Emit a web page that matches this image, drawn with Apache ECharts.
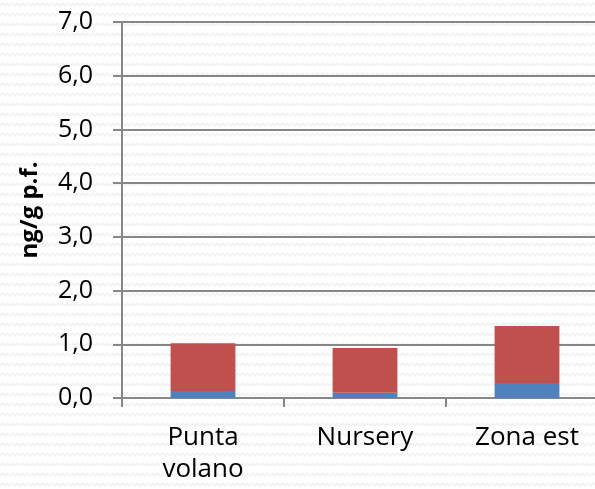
<!DOCTYPE html>
<html>
<head>
<meta charset="utf-8">
<script src="https://cdn.jsdelivr.net/npm/echarts@6/dist/echarts.min.js"></script>
<style>
  html, body { margin: 0; padding: 0; background: #fff; }
  #chart { width: 595px; height: 489px; }
</style>
</head>
<body>
<div id="chart"></div>
<script>
// categories and stacked values (ng/g p.f.)
const categories = ['Punta\nvolano', 'Nursery', 'Zona est']
const blueValues = [0.13, 0.10, 0.28]
const redValues = [0.89, 0.83, 1.06]

// faint zigzag background tile
function makeTile() {
  const c = document.createElement('canvas')
  c.width = 10
  c.height = 10
  const ctx = c.getContext('2d')
  ctx.fillStyle = '#ffffff'
  ctx.fillRect(0, 0, 10, 10)
  ctx.strokeStyle = '#f1f1f1'
  ctx.lineWidth = 1.4
  ctx.beginPath()
  ctx.moveTo(0, 6)
  ctx.lineTo(2.5, 3)
  ctx.lineTo(5, 6)
  ctx.lineTo(7.5, 3)
  ctx.lineTo(10, 6)
  ctx.stroke()
  return c
}

const chart = echarts.init(document.getElementById('chart'))
const axisColor = '#878787'
const fontFamily = '"Open Sans", sans-serif'

chart.setOption({
  animation: false,
  backgroundColor: { image: makeTile(), repeat: 'repeat' },
  grid: {
    left: 122,
    top: 22,
    width: 486,
    bottom: 91,
    outerBoundsMode: 'none'
  },
  xAxis: {
    type: 'category',
    data: categories,
    axisLine: { lineStyle: { color: axisColor, width: 2 } },
    axisTick: { show: true, length: 9, lineStyle: { color: axisColor, width: 2 } },
    axisLabel: {
      color: '#000',
      fontSize: 26,
      fontFamily: fontFamily,
      lineHeight: 32,
      margin: 24
    }
  },
  yAxis: {
    type: 'value',
    min: 0,
    max: 7,
    interval: 1,
    name: 'ng/g p.f.',
    nameLocation: 'middle',
    nameGap: 80,
    nameTextStyle: {
      color: '#000',
      fontSize: 24,
      fontWeight: 'bold',
      fontFamily: fontFamily
    },
    axisLine: { show: true, lineStyle: { color: axisColor, width: 2 } },
    axisTick: { show: true, length: 9, lineStyle: { color: axisColor, width: 2 } },
    splitLine: { lineStyle: { color: axisColor, width: 2 } },
    axisLabel: {
      color: '#000',
      fontSize: 25,
      fontFamily: fontFamily,
      margin: 29,
      formatter: function(v) {
        return v.toFixed(1).replace('.', ',')
      }
    }
  },
  series: [
    {
      name: 'blue',
      type: 'bar',
      stack: 'total',
      barWidth: '40%',
      itemStyle: { color: '#4F81BD' },
      data: blueValues
    },
    {
      name: 'red',
      type: 'bar',
      stack: 'total',
      barWidth: '40%',
      itemStyle: { color: '#C0504D' },
      data: redValues
    }
  ]
})
</script>
</body>
</html>
